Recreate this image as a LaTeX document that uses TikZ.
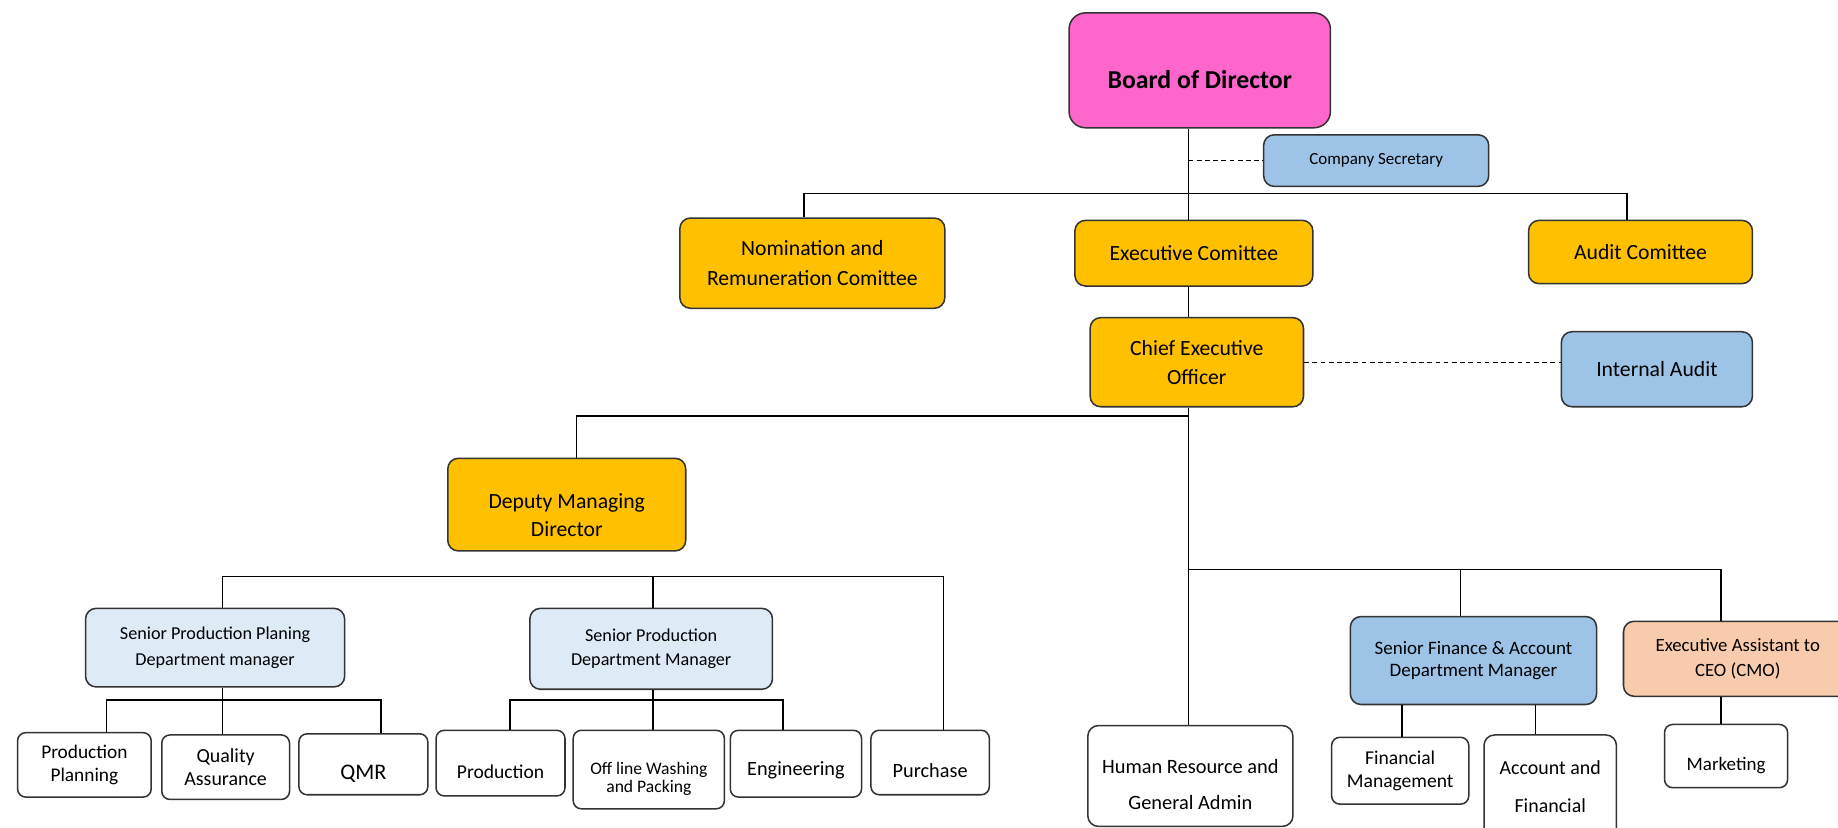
\documentclass[tikz,border=0pt]{standalone}
\usepackage{fontspec}
\setmainfont{Carlito}
\definecolor{bodpink}{HTML}{FF66CC}
\definecolor{gold}{HTML}{FFC000}
\definecolor{ltblue}{HTML}{9DC3E6}
\definecolor{paleblue}{HTML}{DEEBF7}
\definecolor{peach}{HTML}{F8CBAD}
\newcommand{\dn}[1]{\rule{0pt}{#1}}
\begin{document}
\begin{tikzpicture}[x=1pt,y=-1pt,
  box/.style={draw=black!80, line width=1.3pt, rounded corners=9pt, align=center, inner sep=2pt, text=black},
  fsz/.style 2 args={font=\fontsize{#1}{#2}\selectfont},
  conn/.style={draw=black, line width=1.2pt},
  dconn/.style={draw=black, line width=1.1pt, dash pattern=on 4pt off 3pt},
]
\useasboundingbox (0,0) rectangle (1568,706);
\clip (0,0) rectangle (1568,706);

% top level
\node[box, fill=bodpink, minimum width=223pt, minimum height=98pt, rounded corners=14pt,
      font=\fontsize{22}{26}\selectfont\bfseries, text height=31pt] (bod) at (1023.5,60) {Board of Director};
\node[box, fill=ltblue, minimum width=192pt, minimum height=44pt, fsz={14.5}{17}] (cs) at (1174,137) {Company Secretary};
\node[box, fill=gold, minimum width=226pt, minimum height=77pt, fsz={18.5}{25}] (nrc) at (693,224.5) {Nomination and\\Remuneration Comittee};
\node[box, fill=gold, minimum width=203pt, minimum height=56pt, fsz={18.5}{25}] (exc) at (1018.5,216) {Executive Comittee};
\node[box, fill=gold, minimum width=191pt, minimum height=54pt, fsz={18.5}{25}] (aud) at (1399.5,215) {Audit Comittee};
\node[box, fill=gold, minimum width=182pt, minimum height=76pt, fsz={18.5}{25}] (ceo) at (1021,309) {Chief Executive\\Officer};
\node[box, fill=ltblue, minimum width=163pt, minimum height=64pt, fsz={18.5}{25}] (ia) at (1413.5,315) {Internal Audit};
\node[box, fill=gold, minimum width=203pt, minimum height=79pt, fsz={18.5}{24}] (dmd) at (483.5,430.5) {\dn{30pt}Deputy Managing\\Director};

% production side
\node[box, fill=paleblue, minimum width=221pt, minimum height=67pt, fsz={15.5}{22}] (spp) at (183.5,552.5) {Senior Production Planing\\Department manager};
\node[box, fill=paleblue, minimum width=207pt, minimum height=69pt, fsz={15.5}{20}] (spd) at (555.5,553.5) {Senior Production\\Department Manager};
\node[box, fill=white, minimum width=114pt, minimum height=55pt, fsz={16.5}{20}, rounded corners=7pt] (pp) at (72,652.5) {Production\\Planning};
\node[box, fill=white, minimum width=109pt, minimum height=55pt, fsz={17}{19}, rounded corners=7pt] (qa) at (192.5,654.5) {Quality\\Assurance};
\node[box, fill=white, minimum width=110pt, minimum height=52pt, fsz={19}{22}, rounded corners=7pt] (qmr) at (310,652) {\dn{28pt}QMR};
\node[box, fill=white, minimum width=110pt, minimum height=56pt, fsz={16.7}{20}, rounded corners=7pt] (prod) at (427,651) {\dn{26pt}Production};
\node[box, fill=white, minimum width=129pt, minimum height=67pt, fsz={15}{15}, rounded corners=7pt] (olw) at (553.5,656.5) {\dn{26pt}Off line Washing\\and Packing};
\node[box, fill=white, minimum width=112pt, minimum height=57pt, fsz={17.3}{20}, rounded corners=7pt] (eng) at (679,651.5) {\dn{23pt}Engineering};
\node[box, fill=white, minimum width=101pt, minimum height=55pt, fsz={17.3}{20}, rounded corners=7pt] (pur) at (793.5,650.5) {\dn{25pt}Purchase};

% right side
\node[box, fill=white, minimum width=175pt, minimum height=86pt, fsz={17.4}{31}] (hr) at (1015.5,662) {\dn{27pt}Human Resource and\\General Admin};
\node[box, fill=ltblue, minimum width=210pt, minimum height=75pt, fsz={16.2}{19}] (sfa) at (1257,563.5) {Senior Finance \& Account\\Department Manager};
\node[box, fill=peach, minimum width=195pt, minimum height=64pt, fsz={16}{21}] (ea) at (1482.5,562) {Executive Assistant to\\CEO (CMO)};
\node[box, fill=white, minimum width=117pt, minimum height=57pt, fsz={16.7}{20}, rounded corners=7pt] (fm) at (1194.5,657.5) {Financial\\Management};
\node[box, fill=white, minimum width=113pt, minimum height=88pt, fsz={17}{32}] (af) at (1322.5,671) {Account and\\Financial};
\node[box, fill=white, minimum width=105pt, minimum height=54pt, fsz={16.2}{20}, rounded corners=7pt] (mkt) at (1472.5,645) {\dn{27pt}Marketing};

% connectors
\coordinate (spine) at (1014,0);
\draw[conn] (bod.south -| spine) -- (exc.north -| spine);
\coordinate (b1L) at (686,165);
\coordinate (b1R) at (1388,165);
\draw[conn] (nrc.north -| b1L) -- (b1L) -- (b1R) -- (aud.north -| b1R);
\draw[dconn] (spine |- cs.west) -- (cs.west);
\draw[conn] (exc.south -| spine) -- (ceo.north -| spine);
\draw[dconn] (ceo.east) -- (ia.west |- ceo.east);
\draw[conn] (ceo.south -| spine) -- (hr.north -| spine);

\coordinate (b2L) at (492,355);
\draw[conn] (spine |- b2L) -- (b2L) -- (dmd.north -| b2L);

\coordinate (b3L) at (190,492);
\coordinate (b3M) at (557,492);
\coordinate (b3R) at (805,492);
\draw[conn] (spp.north -| b3L) -- (b3L) -- (b3R) -- (pur.north -| b3R);
\draw[conn] (b3M) -- (spd.north -| b3M);

\coordinate (b4L) at (91,597);
\coordinate (b4M) at (190,597);
\coordinate (b4R) at (325,597);
\draw[conn] (pp.north -| b4L) -- (b4L) -- (b4R) -- (qmr.north -| b4R);
\draw[conn] (spp.south -| b4M) -- (qa.north -| b4M);

\coordinate (b5L) at (435,597);
\coordinate (b5M) at (557,597);
\coordinate (b5R) at (668,597);
\draw[conn] (prod.north -| b5L) -- (b5L) -- (b5R) -- (eng.north -| b5R);
\draw[conn] (spd.south -| b5M) -- (olw.north -| b5M);

\coordinate (b6M) at (1246,486);
\coordinate (b6R) at (1468,486);
\draw[conn] (spine |- b6M) -- (b6R) -- (ea.north -| b6R);
\draw[conn] (b6M) -- (sfa.north -| b6M);
\coordinate (c1) at (1196,0);
\coordinate (c2) at (1310,0);
\draw[conn] (sfa.south -| c1) -- (fm.north -| c1);
\draw[conn] (sfa.south -| c2) -- (af.north -| c2);
\draw[conn] (ea.south -| b6R) -- (mkt.north -| b6R);
\end{tikzpicture}
\end{document}
